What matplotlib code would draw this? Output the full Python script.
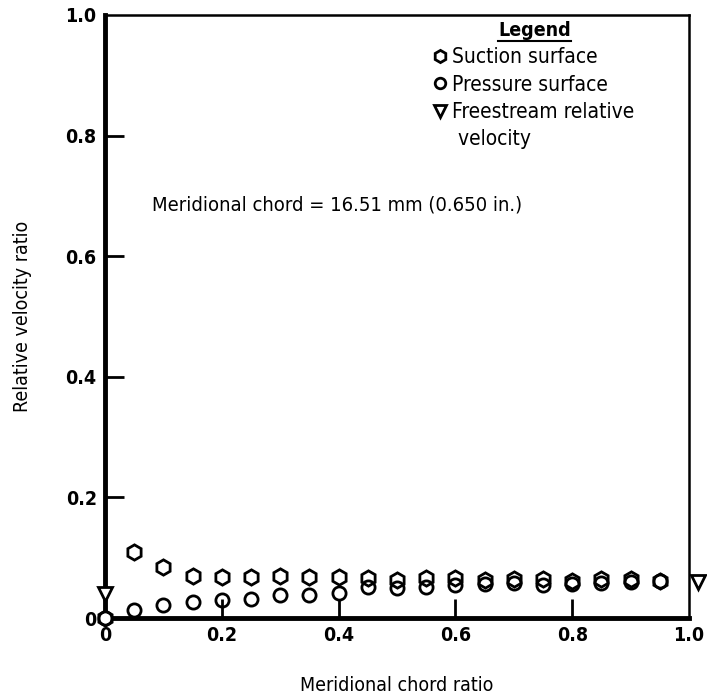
import matplotlib
matplotlib.use("Agg")
import matplotlib.pyplot as plt
from matplotlib.lines import Line2D

plt.rcParams["font.family"] = ["DejaVu Sans"]
plt.rcParams["font.stretch"] = "condensed"
plt.rcParams["font.weight"] = "bold"

# Meridional chord ratio
chord = [0.0, 0.05, 0.10, 0.15, 0.20, 0.25, 0.30, 0.35, 0.40, 0.45,
         0.50, 0.55, 0.60, 0.65, 0.70, 0.75, 0.80, 0.85, 0.90, 0.95]
suction = [0.0, 0.110, 0.085, 0.070, 0.068, 0.068, 0.070, 0.068, 0.068, 0.066,
           0.063, 0.066, 0.066, 0.063, 0.064, 0.064, 0.062, 0.065, 0.065, 0.062]
pressure = [0.0, 0.013, 0.022, 0.027, 0.030, 0.032, 0.038, 0.038, 0.042, 0.052,
            0.050, 0.052, 0.055, 0.057, 0.058, 0.055, 0.057, 0.058, 0.060, 0.062]
free_x = [0.0, 1.015]
free_y = [0.040, 0.060]

ticks = [0, 0.2, 0.4, 0.6, 0.8, 1.0]
tick_labels = ["0", "0.2", "0.4", "0.6", "0.8", "1.0"]

fig = plt.figure(figsize=(7.07, 6.99), dpi=100)
ax = fig.add_axes([105 / 707, 1 - 618 / 699, 584 / 707, 603 / 699])

ax.plot(chord, suction, linestyle="none", marker="h", markersize=11,
        markerfacecolor="white", markeredgecolor="black", markeredgewidth=2,
        label="Suction surface", clip_on=False, zorder=3)
ax.plot(chord, pressure, linestyle="none", marker="o", markersize=9.5,
        markerfacecolor="none", markeredgecolor="black", markeredgewidth=2,
        label="Pressure surface", clip_on=False, zorder=4)
ax.plot(free_x, free_y, linestyle="none", marker="v", markersize=10,
        markerfacecolor="white", markeredgecolor="black", markeredgewidth=2,
        label="Freestream relative", clip_on=False, zorder=5)
# extra row so that "velocity" sits on its own line
ax.plot([], [], linestyle="none", marker="none", label=" velocity")

ax.set_xlim(0, 1.0)
ax.set_ylim(0, 1.0)
ax.set_xticks(ticks)
ax.set_xticklabels(tick_labels)
ax.set_yticks(ticks)
ax.set_yticklabels(tick_labels)
ax.tick_params(direction="in", length=14, width=2, labelsize=14, pad=6)
for t in ax.xaxis.get_major_ticks():
    if t.get_loc() in (0, 1.0):
        t.tick1line.set_visible(False)
for t in ax.yaxis.get_major_ticks():
    if t.get_loc() in (0, 1.0):
        t.tick1line.set_visible(False)

ax.spines["left"].set_linewidth(3.5)
ax.spines["bottom"].set_linewidth(3.5)
ax.spines["top"].set_linewidth(1.8)
ax.spines["right"].set_linewidth(1.8)

ax.set_xlabel("Meridional chord ratio", fontsize=14, fontweight="normal",
              labelpad=22)
ax.set_ylabel("Relative velocity ratio", fontsize=14, fontweight="normal",
              labelpad=24)

ax.text(0.08, 0.685, "Meridional chord = 16.51 mm (0.650 in.)",
        transform=ax.transAxes, fontsize=14.5, fontweight="normal",
        ha="left", va="center")

leg = ax.legend(loc="upper left", bbox_to_anchor=(0.565, 0.99), frameon=False,
                title="Legend", title_fontsize=14, fontsize=15,
                handlelength=0.5, handletextpad=0.3, labelspacing=0.35,
                borderaxespad=0, borderpad=0, markerscale=0.8)
for txt in leg.get_texts():
    txt.set_fontweight("normal")

fig.canvas.draw()
bb = leg.get_title().get_window_extent()
fig.add_artist(Line2D([bb.x0, bb.x1], [bb.y0 - 1, bb.y0 - 1], color="black",
                      linewidth=1.5, transform=None))

fig.savefig("out.png", dpi=100)
